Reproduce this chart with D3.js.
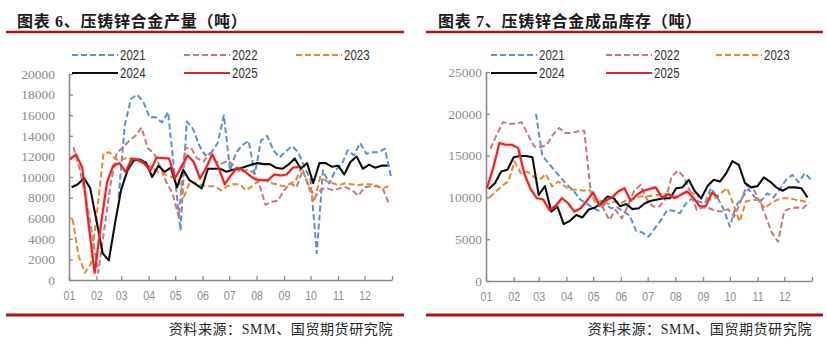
<!DOCTYPE html>
<html>
<head>
<meta charset="utf-8">
<script src="https://cdn.jsdelivr.net/npm/d3@7"></script>
<style>
  html, body { margin: 0; padding: 0; background: #ffffff; }
  svg { display: block; }
</style>
</head>
<body>
<svg id="chart" width="827" height="345"></svg>
<script>
// ---- month axis ----
const monthLabels = ["01", "02", "03", "04", "05", "06", "07", "08", "09", "10", "11", "12"];
const monthStartDays = [0, 31, 59, 90, 120, 151, 181, 212, 243, 273, 304, 334, 365];

// ---- series: weekly readings, one array per year ----
const seriesYears = ["2021", "2022", "2023", "2024", "2025"];
// day of year of each series' first weekly reading
const firstDays = [56, 5, 4, 3, 1];

// die-cast zinc alloy output (tonnes)
const output2021 = [8000, 15000, 17600, 18000, 17300, 15800, 15800, 15300, 16300, 10500, 4800, 15400, 14700, 13100, 12100, 12400, 13300, 16000, 10650, 12400, 13100, 13500, 10300, 13550, 14000, 12600, 11900, 12500, 13000, 12400, 11000, 9700, 2600, 10650, 9350, 10650, 11200, 12600, 12100, 13300, 12250, 12400, 12400, 12750, 10000];
const output2022 = [12900, 10800, 8000, 4500, 700, 5000, 9300, 12300, 12900, 13500, 14000, 14800, 12800, 12300, 11000, 9500, 8400, 6100, 12800, 12800, 11800, 11500, 12300, 11500, 11300, 11600, 11000, 10400, 10700, 10500, 9300, 7300, 7600, 7700, 8700, 9400, 9000, 10600, 9200, 8000, 8800, 8900, 8700, 8900, 9000, 8700, 8200, 9000, 9100, 9100, 8800, 7300];
const output2023 = [5900, 2300, 700, 1600, 6800, 12300, 12400, 11700, 11700, 11900, 11600, 11450, 11150, 10850, 10400, 10250, 10000, 9900, 8100, 9600, 9400, 9200, 9100, 9100, 8700, 9100, 9300, 9300, 8700, 9100, 9600, 9700, 9400, 9300, 9100, 9300, 9600, 11000, 9200, 7600, 10000, 9600, 9400, 9200, 9400, 9300, 9200, 9300, 9300, 9200, 8900, 9100];
const output2024 = [9000, 9300, 9900, 8900, 5800, 2600, 1900, 5500, 8800, 10600, 11600, 11700, 11400, 10000, 11100, 10500, 10900, 9000, 10700, 9700, 9300, 8900, 10800, 10800, 10800, 10500, 10700, 10800, 11000, 11200, 11350, 11250, 11250, 10900, 10800, 11200, 11800, 10800, 11350, 9400, 11350, 11350, 11000, 11100, 10250, 11450, 12000, 10800, 11200, 10900, 11100, 11100];
const output2025 = [11700, 12200, 10900, 5500, 700, 5300, 9500, 11100, 11350, 10500, 11800, 11700, 11300, 10600, 11900, 11850, 11800, 9900, 11000, 12100, 11450, 9850, 10900, 12200, 10900, 9300, 10150, 10900, 10650, 10150, 9750, 9700, 9700, 10250, 10150, 10250, 10900, 11000];

// die-cast zinc alloy finished-goods inventory (tonnes)
const stock2021 = [20000, 15000, 14100, 13200, 12300, 11500, 10800, 9800, 9300, 8800, 8400, 9200, 8700, 8800, 8300, 7800, 6000, 5800, 5300, 6300, 7300, 8500, 8400, 8100, 9300, 9900, 9500, 9300, 11100, 10000, 8600, 6500, 9000, 10000, 11000, 10000, 9600, 10500, 10000, 11000, 12100, 12700, 11800, 12900, 12100];
const stock2022 = [15800, 17500, 19000, 18800, 18800, 19000, 17500, 16100, 16000, 16300, 17500, 18300, 17700, 17700, 17900, 18000, 10900, 9700, 8800, 7300, 8500, 7500, 9000, 10800, 11500, 9800, 8900, 8900, 9800, 12500, 13200, 12400, 10500, 8500, 8800, 8700, 8400, 8300, 8600, 7700, 9500, 11400, 11100, 9600, 7800, 5800, 4700, 8400, 8700, 8800, 8700, 9400];
const stock2023 = [10000, 10700, 11400, 11900, 14300, 12900, 13100, 12500, 12100, 12800, 11300, 11900, 11350, 10900, 10950, 10800, 10900, 9200, 9700, 9200, 9500, 9300, 9700, 9800, 10100, 10100, 10200, 10300, 10400, 10300, 10000, 10500, 10700, 10300, 9800, 9700, 9900, 10500, 11100, 9200, 7100, 9500, 9700, 9700, 8700, 9300, 9700, 9900, 9900, 9700, 9600, 9400];
const stock2024 = [11000, 11700, 13100, 13300, 14800, 14950, 14950, 14800, 10300, 11350, 8300, 8900, 6800, 7200, 7900, 7600, 8550, 8800, 9300, 10100, 9900, 8950, 9200, 8600, 8700, 9300, 9600, 9750, 9900, 9900, 11100, 11200, 12100, 10700, 9900, 11350, 12100, 11900, 12900, 14350, 13900, 11700, 11200, 11350, 12400, 11900, 11200, 10800, 11200, 11200, 11100, 10000];
const stock2025 = [11100, 13500, 16500, 16300, 16300, 15900, 12800, 11000, 9900, 9750, 8500, 9000, 9900, 9300, 8300, 8700, 9600, 10600, 9000, 9600, 10000, 10700, 11100, 9600, 10300, 10800, 11000, 11200, 10000, 10400, 9900, 10300, 10700, 10000, 8950, 8950, 10550, 10000];

// ---- styling ----
const seriesColors = ["#5b8fcf", "#c27a80", "#df8a34", "#0d0d0d", "#e3242b"];
const seriesDash = ["6,3", "6,3", "6,3", null, null];
const seriesWidth = [2, 2, 2, 2.1, 2.1];
const axisColor = "#8a8a8a";
const labelColor = "#8c8c8c";
const ruleColor = "#a3161c";

// Liberation Sans Narrow if present, otherwise squeeze regular sans
function fontAvailable(name) {
  const ctx = document.createElement("canvas").getContext("2d");
  ctx.font = "40px monospace";
  const a = ctx.measureText("2021 0123").width;
  ctx.font = `40px "${name}", monospace`;
  const b = ctx.measureText("2021 0123").width;
  return Math.abs(a - b) > 0.5;
}
const narrowOK = fontAvailable("Liberation Sans Narrow");
const narrowFamily = narrowOK ? '"Liberation Sans Narrow"' : '"Liberation Sans", Arial, sans-serif';
const squeeze = narrowOK ? 1 : 0.82;

const svg = d3.select("#chart");

function buildSeries(arrays) {
  return seriesYears.map((year, k) => ({
    year,
    color: seriesColors[k],
    dash: seriesDash[k],
    width: seriesWidth[k],
    points: arrays[k].map((v, i) => [firstDays[k] + 7 * i, v])
  }));
}

const panels = [
  {
    title: "图表 6、压铸锌合金产量（吨）",
    titleX: 17, ruleX: [6, 404],
    plot: { left: 69, right: 392, top: 74, bottom: 280 },
    yMax: 20000, yStep: 2000, yPad: 14,
    legendX: [72, 184, 296],
    sourceX: 393,
    series: buildSeries([output2021, output2022, output2023, output2024, output2025])
  },
  {
    title: "图表 7、压铸锌合金成品库存（吨）",
    titleX: 438, ruleX: [426, 823],
    plot: { left: 486, right: 812, top: 72, bottom: 281 },
    yMax: 25000, yStep: 5000, yPad: 4,
    legendX: [491, 606, 716],
    sourceX: 812,
    series: buildSeries([stock2021, stock2022, stock2023, stock2024, stock2025])
  }
];

const legendRows = [55, 73];
const legendSlots = [[0, 0], [0, 1], [0, 2], [1, 0], [1, 1]];

panels.forEach(p => {
  const g = svg.append("g");

  // title and rules
  g.append("text")
    .attr("x", p.titleX).attr("y", 27)
    .style("font-family", '"Liberation Serif", "Noto Sans CJK SC", serif')
    .style("font-weight", 700)
    .style("font-size", "16px")
    .style("letter-spacing", "0.7px")
    .attr("fill", "#1a1a1a")
    .text(p.title);
  g.append("line")
    .attr("x1", p.ruleX[0]).attr("x2", p.ruleX[1])
    .attr("y1", 32).attr("y2", 32)
    .attr("stroke", ruleColor).attr("stroke-width", 2.6);
  g.append("line")
    .attr("x1", p.ruleX[0]).attr("x2", p.ruleX[1])
    .attr("y1", 315).attr("y2", 315)
    .attr("stroke", ruleColor).attr("stroke-width", 3);
  g.append("text")
    .attr("x", p.sourceX).attr("y", 334)
    .attr("text-anchor", "end")
    .style("font-family", '"Liberation Serif", "Noto Sans CJK SC", serif')
    .style("font-size", "14px")
    .style("letter-spacing", "0.6px")
    .attr("fill", "#262626")
    .text("资料来源：SMM、国贸期货研究院");

  // scales
  const x = d3.scaleLinear().domain([0, 365]).range([p.plot.left, p.plot.right]);
  const y = d3.scaleLinear().domain([0, p.yMax]).range([p.plot.bottom, p.plot.top]);

  // axes
  const gx = g.append("g")
    .attr("transform", `translate(0,${p.plot.bottom})`)
    .call(d3.axisBottom(x)
      .tickValues(monthStartDays)
      .tickSizeInner(-4).tickSizeOuter(0).tickPadding(11)
      .tickFormat((d, i) => i < monthLabels.length ? monthLabels[i] : ""));
  gx.select(".domain").attr("stroke", axisColor).attr("stroke-width", 1.6);
  gx.selectAll(".tick line").attr("stroke", axisColor).attr("stroke-width", 1.3);
  gx.selectAll(".tick text")
    .attr("fill", labelColor)
    .style("font-family", narrowFamily)
    .style("font-size", "13px")
    .attr("transform", `scale(${squeeze},1)`);

  const gy = g.append("g")
    .attr("transform", `translate(${p.plot.left},0)`)
    .call(d3.axisLeft(y)
      .tickValues(d3.range(0, p.yMax + 1, p.yStep))
      .tickSizeInner(-4).tickSizeOuter(0).tickPadding(p.yPad)
      .tickFormat(d3.format("d")));
  gy.select(".domain").attr("stroke", axisColor).attr("stroke-width", 1.6);
  gy.selectAll(".tick line").attr("stroke", axisColor).attr("stroke-width", 1.3);
  gy.selectAll(".tick text")
    .attr("fill", labelColor)
    .style("font-family", '"Liberation Serif", "Times New Roman", serif')
    .style("font-size", "13.5px");

  // lines
  const line = d3.line().x(d => x(d[0])).y(d => y(d[1]));
  const lines = g.append("g").attr("fill", "none").attr("stroke-linejoin", "round");
  p.series.forEach((s, k) => {
    if (k === 4) {
      // soft halo under the current-year line
      lines.append("path")
        .attr("d", line(s.points))
        .attr("stroke", "#f08a8a").attr("stroke-opacity", 0.22)
        .attr("stroke-width", 4.5);
    }
    lines.append("path")
      .attr("d", line(s.points))
      .attr("stroke", s.color)
      .attr("stroke-width", s.width)
      .attr("stroke-dasharray", s.dash);
  });

  // legend
  const lg = g.append("g");
  p.series.forEach((s, k) => {
    const [row, col] = legendSlots[k];
    const lx = p.legendX[col], ly = legendRows[row];
    lg.append("line")
      .attr("x1", lx).attr("x2", lx + 46)
      .attr("y1", ly).attr("y2", ly)
      .attr("stroke", s.color).attr("stroke-width", s.width)
      .attr("stroke-dasharray", s.dash);
    lg.append("text")
      .attr("transform", `translate(${lx + 48},${ly}) scale(${squeeze},1)`)
      .attr("dy", "0.36em")
      .style("font-family", narrowFamily)
      .style("font-size", "14px")
      .attr("fill", "#333333")
      .text(s.year);
  });
});
</script>
</body>
</html>
